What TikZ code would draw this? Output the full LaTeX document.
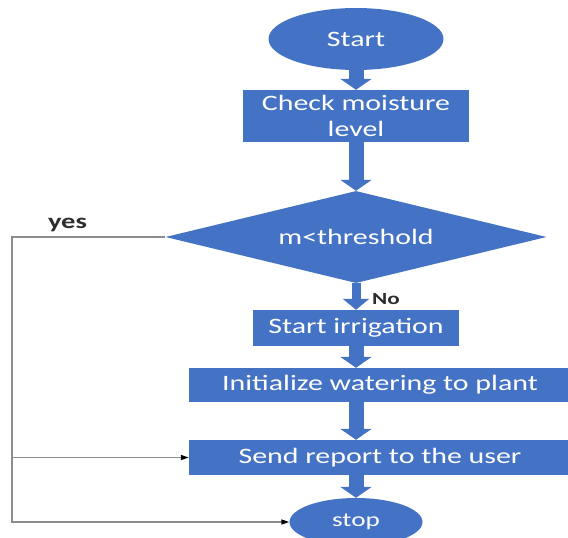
\documentclass[tikz,border=0pt]{standalone}
\usepackage{fontspec}
\setmainfont{Carlito}[FakeStretch=1.36]
\usetikzlibrary{shapes.geometric,arrows.meta}
\definecolor{boxblue}{RGB}{68,114,196}
\definecolor{linegray}{RGB}{140,140,140}
\definecolor{labelgray}{RGB}{45,45,45}
\begin{document}
\begin{tikzpicture}[x=1pt,y=-1pt,
  box/.style={rectangle, fill=boxblue, text=white, inner sep=0pt, align=center,
    font=\fontsize{22}{26}\selectfont},
  term/.style={ellipse, fill=boxblue, text=white, inner sep=0pt,
    font=\fontsize{22}{26}\selectfont},
  decision/.style={diamond, fill=boxblue, text=white, inner sep=0pt, shape aspect=4.14,
    font=\fontsize{22}{26}\selectfont},
  flow/.style={draw=boxblue, line width=15pt, -{Triangle[length=11pt,width=31pt]}},
  thinflow/.style={draw=boxblue, line width=9pt, -{Triangle[length=11pt,width=26pt]}},
  link/.style={draw=linegray, line width=1.4pt, -{Triangle[length=8pt,width=5pt,color=black]}},
  lbl/.style={text=labelgray, inner sep=0pt, font=\bfseries}
]
\useasboundingbox (0,0) rectangle (568,538);
\fill[white] (0,0) rectangle (568,538);

\node[term, minimum width=175pt, minimum height=62pt] (start) at (356,39) {Start};
\node[box, minimum width=226pt, minimum height=52pt] (check) at (356,116) {Check moisture\\level};
\node[decision, minimum width=381pt, minimum height=92pt] (dec) at (356,237) {m<threshold};
\node[box, minimum width=206pt, minimum height=36pt] (irr) at (356,328) {Start irrigation};
\node[box, minimum width=382pt, minimum height=34pt] (init) at (380,385) {Initialize watering to plant};
\node[box, minimum width=382pt, minimum height=35pt] (send) at (380,457.5) {Send report to the user};
\node[term, minimum width=133pt, minimum height=48pt, font=\fontsize{20}{24}\selectfont] (stop) at (356,522) {stop};

\draw[flow] (start.south) -- (check.north);
\draw[flow] (check.south) -- (dec.north);
\draw[thinflow] (dec.south) -- (irr.north);
\draw[flow] (irr.south) -- (irr.south |- init.north);
\draw[flow] (init.south -| irr.south) -- (send.north -| irr.south);
\draw[flow] (send.south -| stop.north) -- (stop.north);

\coordinate (tl) at (12,237);
\coordinate (bl) at (12,522);
\draw[link] (dec.west) -- (tl) -- (bl) -- (stop.west);
\draw[link] (send.west -| tl) -- (send.west);

\node[lbl, anchor=base, font=\bfseries\fontsize{21}{24}\selectfont] (yes) at (67.5,228) {yes};
\node[lbl, anchor=base west, font=\bfseries\fontsize{17}{20}\selectfont] (no) at (372,304) {No};
\end{tikzpicture}
\end{document}
